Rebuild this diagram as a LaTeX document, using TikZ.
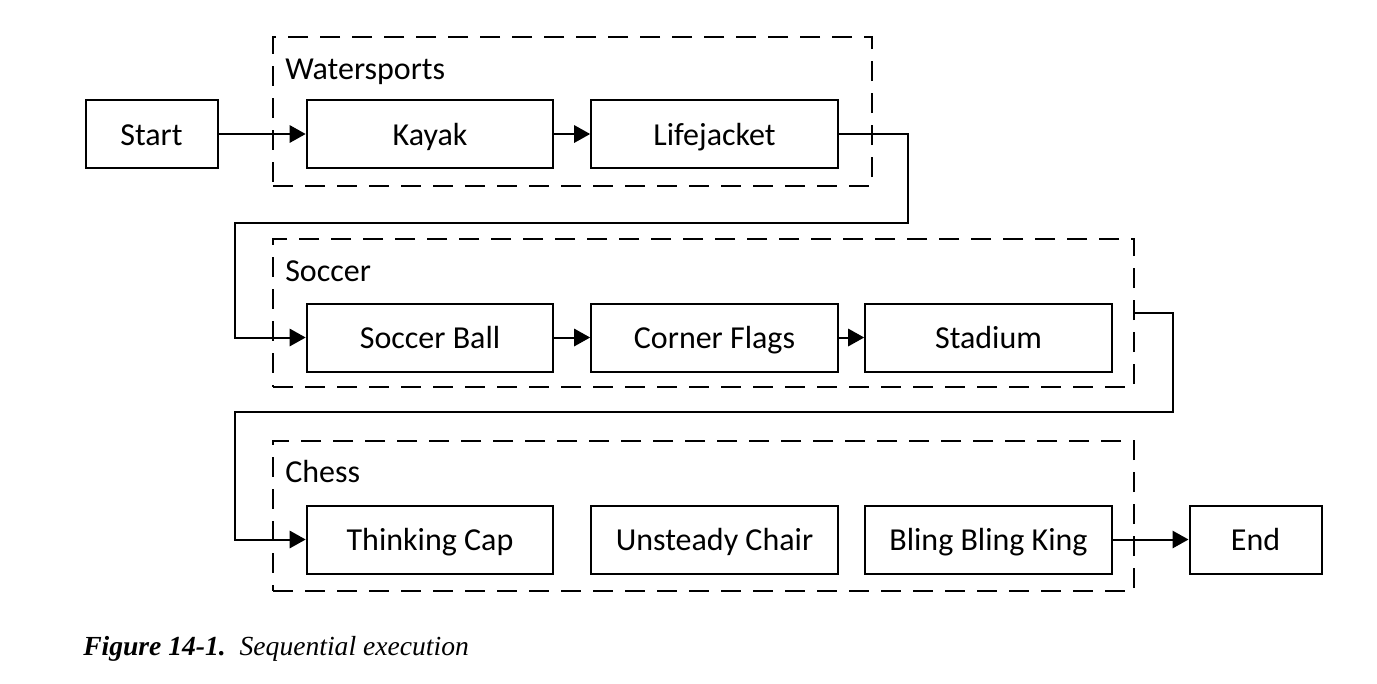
\documentclass[tikz,border=0pt]{standalone}
\usepackage{fontspec}
\newfontfamily\boxfont{Carlito}
\newfontfamily\capfont{Liberation Serif}
\usetikzlibrary{arrows.meta,fit}
\begin{document}
\begin{tikzpicture}[x=0.75pt,y=-0.75pt,
  stepbox/.style={draw=black,line width=1.5pt,rectangle,minimum height=51pt,inner sep=0pt,text height=19pt,text depth=2.5pt,font=\boxfont\fontsize{24}{28}\selectfont},
  wide/.style={stepbox,minimum width=185pt},
  small/.style={stepbox,minimum width=99pt},
  group/.style={draw=black,line width=2.2pt,dash pattern=on 15pt off 9pt,inner sep=0pt,rectangle},
  glabel/.style={anchor=west,inner sep=0pt,text height=19pt,text depth=2.5pt,font=\boxfont\fontsize{24}{28}\selectfont},
  conn/.style={draw=black,line width=1.5pt},
  arr/.style={conn,-{Triangle[length=12pt,width=13pt]}}
]
\useasboundingbox (0,0) rectangle (1377,683);
% groups
\node[group,fit={(273,37) (872,186)}] (ws) {};
\node[group,fit={(273,239) (1134,387)}] (soc) {};
\node[group,fit={(273,441) (1134,591)}] (ch) {};
\node[glabel] (wsl) at (285,68) {Watersports};
\node[glabel] (socl) at (285,270) {Soccer};
\node[glabel] (chl) at (285,471) {Chess};
% boxes
\node[small] (start) at (151.5,134) {Start};
\node[wide] (kay) at (430,134) {Kayak};
\node[wide] (lj) at (714.5,134) {Lifejacket};
\node[wide] (sb) at (430,337.5) {Soccer Ball};
\node[wide] (cf) at (714.5,337.5) {Corner Flags};
\node[wide] (st) at (988.5,337.5) {Stadium};
\node[wide] (tc) at (430,539.5) {Thinking Cap};
\node[wide] (uc) at (714.5,539.5) {Unsteady Chair};
\node[wide] (bk) at (988.5,539.5) {Bling Bling King};
\node[small] (end) at (1255.5,539.5) {End};
% connector corners
\coordinate (a1) at (908,223);
\coordinate (a2) at (235,337.5);
\coordinate (b1) at (1173,412);
\coordinate (b2) at (235,539.5);
% connectors
\draw[arr] (start) -- (kay);
\draw[arr] (kay) -- (lj);
\draw[arr] (lj.east) -| (a1) -| (a2) -- (sb.west);
\draw[arr] (sb) -- (cf);
\draw[arr] (cf) -- (st);
\draw[arr] (soc.east) -| (b1) -| (b2) -- (tc.west);
\draw[arr] (bk) -- (end);
% caption
\node[anchor=base west,inner sep=0pt,font=\capfont\fontsize{20.7}{24}\selectfont] (cap) at (83,655) {\textbf{\textit{Figure 14-1.}}\ \ \textit{Sequential execution}};
\end{tikzpicture}
\end{document}
